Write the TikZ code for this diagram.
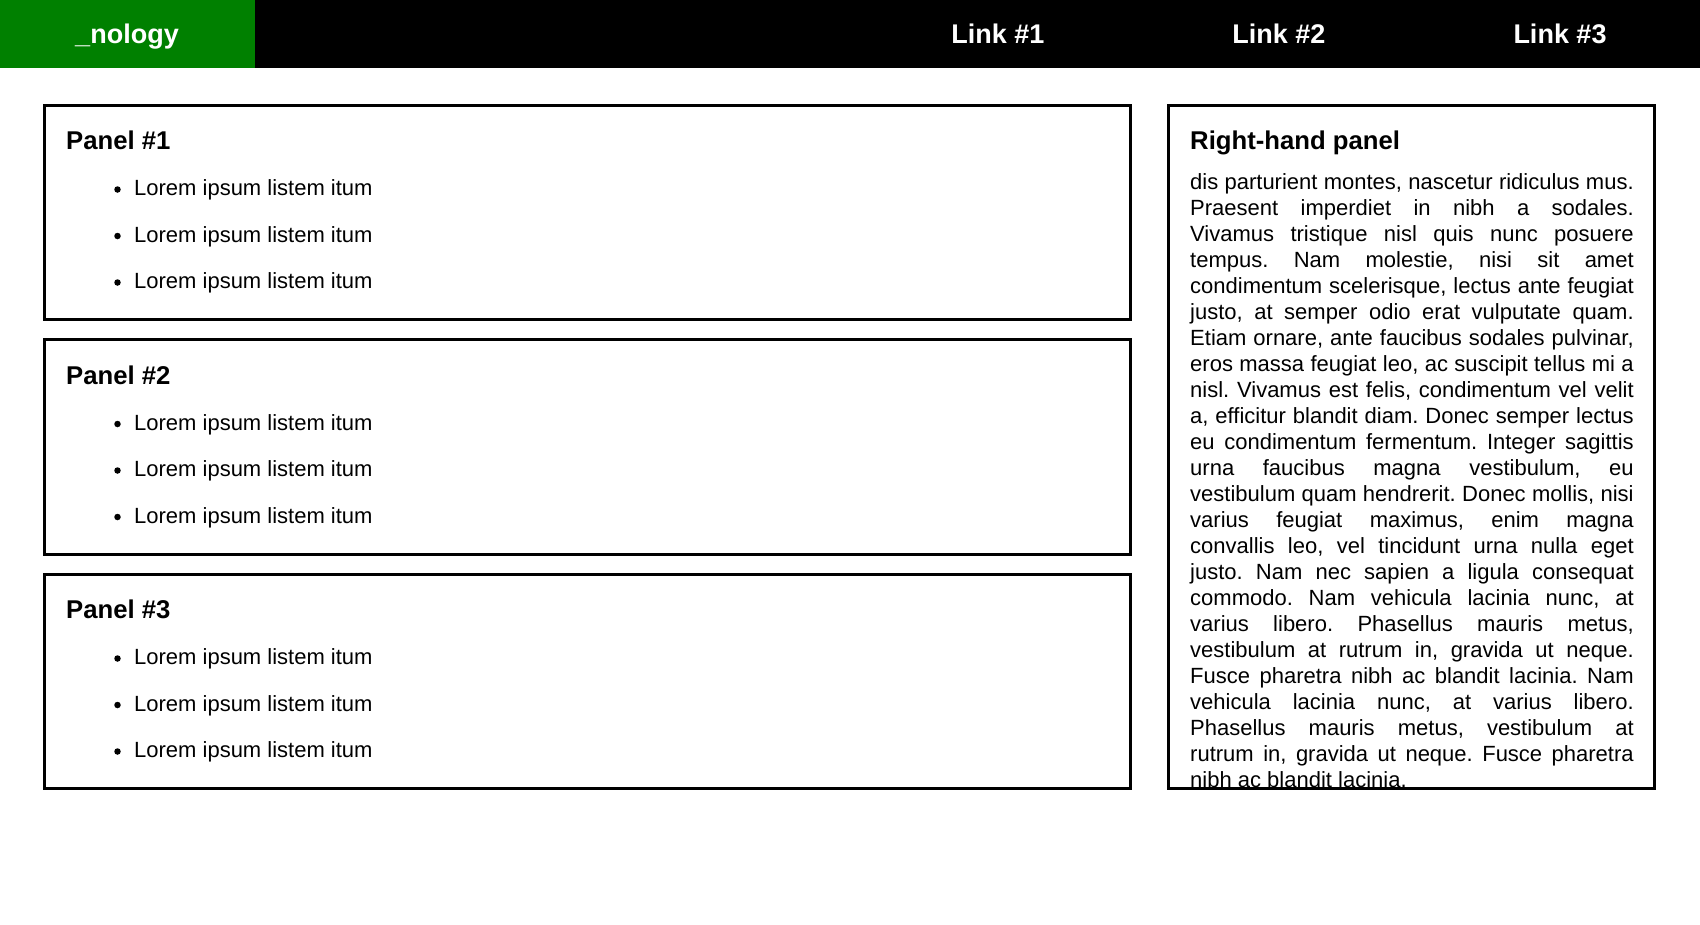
\documentclass[tikz,border=0pt]{standalone}
\usepackage{fontspec}
\setmainfont{Liberation Sans}
\frenchspacing
\definecolor{navgreen}{HTML}{008000}
\newcommand\jline[1]{\hbox to 443.5pt{#1}}
\tikzset{
  barbox/.style={inner sep=0pt, outer sep=0pt, anchor=north west},
  panelbox/.style={draw=black, line width=3pt, inner sep=0pt, outer sep=0pt, anchor=north west},
  navtext/.style={text=white, font=\fontsize{27}{32}\selectfont\bfseries, inner sep=0pt, anchor=base},
  paneltitle/.style={font=\fontsize{25.7}{30}\selectfont\bfseries, inner sep=0pt, anchor=base west},
  itemtext/.style={font=\fontsize{22}{26}\selectfont, inner sep=0pt, anchor=base west},
  bulletdot/.style={circle, fill=black, inner sep=0pt, minimum size=6.5pt},
}
\begin{document}
\frenchspacing
\begin{tikzpicture}[x=1pt,y=-1pt]
\useasboundingbox (0,0) rectangle (1700,924);
\fill[white] (0,0) rectangle (1700,924);
% navigation bar
\node[barbox, fill=black, minimum width=1700, minimum height=68] (navbar) at (0,0) {};
\node[barbox, fill=navgreen, minimum width=255, minimum height=68] (brand) at (0,0) {};
\node[navtext] (brandtext) at (127,43) {\_nology};
\node[navtext] (link1) at (998,43) {Link \#1};
\node[navtext] (link2) at (1279,43) {Link \#2};
\node[navtext] (link3) at (1560,43) {Link \#3};
% left panels
\foreach \i/\top in {1/103.5,2/338,3/572.5} {
  \node[panelbox, minimum width=1086, minimum height=214.5] (panel\i) at (44.5,{\top+1.5}) {};
  \node[paneltitle] (title\i) at (66,{\top+46}) {Panel \#\i};
  \foreach \j in {1,2,3} {
    \node[itemtext] (item\i\j) at (134,{\top+92+46.5*(\j-1)}) {Lorem ipsum listem itum};
    \node[bulletdot] (dot\i\j) at (117.5,{\top+86+46.5*(\j-1)}) {};
  }
}
% right panel
\node[panelbox, minimum width=486, minimum height=683.5] (rpanel) at (1168.5,105) {};
\node[paneltitle] (rtitle) at (1190,149.5) {Right-hand panel};
\begin{scope}
\clip (1170,106.5) rectangle (1653,787);
\node[anchor=base west, inner sep=0pt, font=\fontsize{22}{26}\selectfont] (rtext) at (1190,189) {\vtop{\hsize=443.5pt \baselineskip=26pt \lineskiplimit=-100pt \parindent=0pt
\jline{dis parturient montes, nascetur ridiculus mus.}
\jline{Praesent imperdiet in nibh a sodales.}
\jline{Vivamus tristique nisl quis nunc posuere}
\jline{tempus. Nam molestie, nisi sit amet}
\jline{condimentum scelerisque, lectus ante feugiat}
\jline{justo, at semper odio erat vulputate quam.}
\jline{Etiam ornare, ante faucibus sodales pulvinar,}
\jline{eros massa feugiat leo, ac suscipit tellus mi a}
\jline{nisl. Vivamus est felis, condimentum vel velit}
\jline{a, efficitur blandit diam. Donec semper lectus}
\jline{eu condimentum fermentum. Integer sagittis}
\jline{urna faucibus magna vestibulum, eu}
\jline{vestibulum quam hendrerit. Donec mollis, nisi}
\jline{varius feugiat maximus, enim magna}
\jline{convallis leo, vel tincidunt urna nulla eget}
\jline{justo. Nam nec sapien a ligula consequat}
\jline{commodo. Nam vehicula lacinia nunc, at}
\jline{varius libero. Phasellus mauris metus,}
\jline{vestibulum at rutrum in, gravida ut neque.}
\jline{Fusce pharetra nibh ac blandit lacinia. Nam}
\jline{vehicula lacinia nunc, at varius libero.}
\jline{Phasellus mauris metus, vestibulum at}
\jline{rutrum in, gravida ut neque. Fusce pharetra}
\hbox{nibh ac blandit lacinia.}}};
\end{scope}
\end{tikzpicture}
\end{document}
